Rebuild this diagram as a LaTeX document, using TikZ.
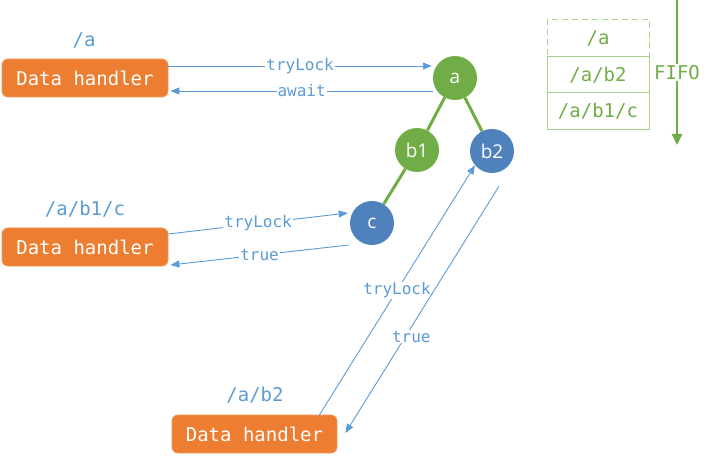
\documentclass[tikz,border=0pt]{standalone}
\usepackage{fontspec}
\setmainfont{Open Sans}
\newfontfamily\monof{DejaVu Sans Mono}
\usetikzlibrary{arrows.meta}
\definecolor{orng}{HTML}{ED7D31}
\definecolor{grn}{HTML}{70AD47}
\definecolor{lgrn}{HTML}{A9D18E}
\definecolor{cblue}{HTML}{4F81BD}
\definecolor{blu}{HTML}{5B9BD5}
\tikzset{
  handler/.style={rectangle, rounded corners=6pt, fill=orng, draw=orng!80!white, line width=0.8pt,
    minimum width=166pt, minimum height=38pt, inner sep=0pt, text=white,
    font=\monof\fontsize{19}{22}\selectfont},
  lbl/.style={text=blu, inner sep=0pt, font=\monof\fontsize{19}{22}\selectfont},
  gnode/.style={circle, fill=grn, minimum size=44pt, inner sep=0pt, text=white,
    font=\fontsize{19}{22}\selectfont},
  bnode/.style={gnode, fill=cblue},
  tree/.style={draw=grn, line width=3pt},
  link/.style={draw=blu, line width=0.9pt, -{Triangle[length=9pt,width=7pt]}},
  mid/.style={fill=white, inner sep=1pt, text=blu, font=\monof\fontsize{16}{18}\selectfont},
  cell/.style={rectangle, draw=lgrn, line width=1pt, minimum width=102pt, minimum height=36.5pt,
    inner sep=0pt, text=grn, font=\monof\fontsize{19}{22}\selectfont},
  fifo/.style={draw=grn, line width=2.5pt, -{Triangle[length=11pt,width=10pt]}},
  fifolbl/.style={fill=white, inner sep=1pt, text=grn, font=\monof\fontsize{19}{22}\selectfont}
}
\begin{document}
\begin{tikzpicture}[x=1pt,y=-1pt]
\useasboundingbox (0,0) rectangle (712,457);
% handlers
\node[handler] (h1) at (85,78) {Data handler};
\node[lbl] (l1) at (84,40) {/a};
\node[handler] (h2) at (85,247) {Data handler};
\node[lbl] (l2) at (85,209) {/a/b1/c};
\node[handler, minimum width=165pt] (h3) at (254.5,434) {Data handler};
\node[lbl] (l3) at (255,395) {/a/b2};
% tree
\node[gnode] (a) at (455,78) {a};
\node[gnode] (b1) at (417,150) {b1};
\node[bnode] (b2) at (492,151) {b2};
\node[bnode] (c) at (372,223) {c};
\draw[tree] (a) -- (b1);
\draw[tree] (a) -- (b2);
\draw[tree] (b1) -- (c);
% connectors
\draw[link] ([yshift=12pt]h1.east) -- node[mid]{tryLock} ([shift={(-1pt,12pt)}]a.west);
\draw[link] ([yshift=-13pt]a.west) -- node[mid]{await} ([shift={(2pt,-13pt)}]h1.east);
\draw[link] ([yshift=13pt]h2.east) -- node[mid]{tryLock} ([shift={(-2pt,10pt)}]c.west);
\draw[link] ([shift={(-1pt,-22pt)}]c.west) -- node[mid]{true} ([shift={(2pt,-18pt)}]h2.east);
\draw[link] ([xshift=64.5pt,yshift=-1pt]h3.north) -- node[mid]{tryLock} (b2.220);
\draw[link] ([shift={(7pt,-13pt)}]b2.south) -- node[mid,pos=0.61,xshift=6pt]{true} ([shift={(8pt,1pt)}]h3.east);
% FIFO stack
\node[cell, dash pattern=on 6pt off 4pt] (s1) at (598,38.25) {/a};
\node[cell] (s2) at (598,74.75) {/a/b2};
\node[cell] (s3) at (598,111.25) {/a/b1/c};
\coordinate (ft) at (677,0);
\coordinate (fb) at (677,145);
\draw[fifo] (ft) -- node[fifolbl] (fl) {FIFO} (fb);
\end{tikzpicture}
\end{document}
